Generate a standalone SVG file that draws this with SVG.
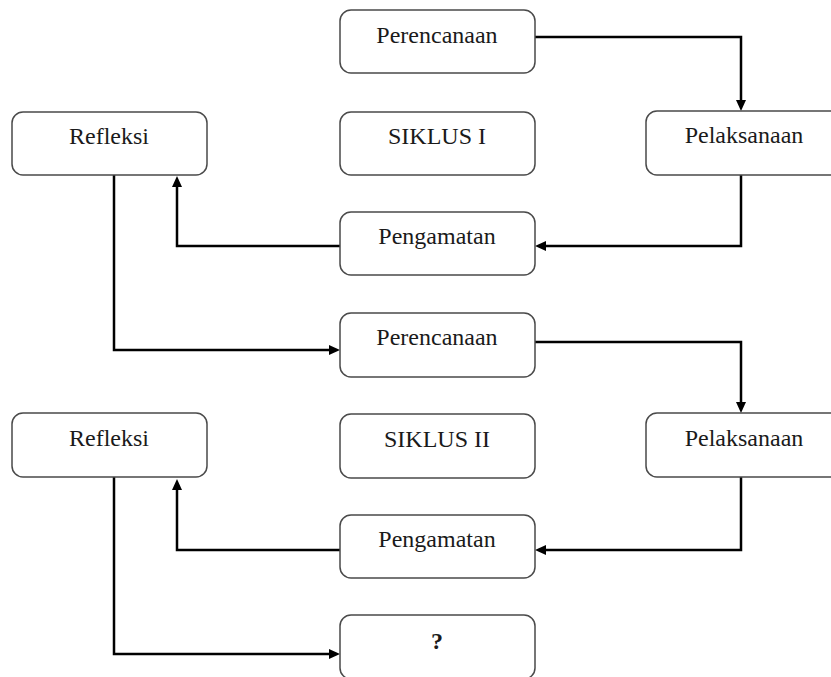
<svg xmlns="http://www.w3.org/2000/svg" width="831" height="677" viewBox="0 0 831 677">
  <style>
    .box { fill: #ffffff; stroke: #4a4a4a; stroke-width: 1.5; }
    .lbl { font-family: "Liberation Serif", "Times New Roman", serif; font-size: 24px; fill: #1a1a1a; text-anchor: middle; }
    .q { font-weight: bold; }
    .con { fill: none; stroke: #000000; stroke-width: 2.5; stroke-linejoin: miter; }
  </style>
  <defs>
    <marker id="arr" markerUnits="userSpaceOnUse" markerWidth="11" markerHeight="10" refX="0" refY="5" orient="auto">
      <path d="M0,0 L11,5 L0,10 z" fill="#000000"/>
    </marker>
  </defs>
  <rect width="831" height="677" fill="#ffffff"/>

  <g id="connectors">
    <path class="con" d="M535,37 H741 V100" marker-end="url(#arr)"/>
    <path class="con" d="M741,175 V246 H546" marker-end="url(#arr)"/>
    <path class="con" d="M340,246 H177 V187" marker-end="url(#arr)"/>
    <path class="con" d="M114,175 V350 H329" marker-end="url(#arr)"/>
    <path class="con" d="M535,342 H741 V402" marker-end="url(#arr)"/>
    <path class="con" d="M741,477 V550 H546" marker-end="url(#arr)"/>
    <path class="con" d="M340,550 H177 V490" marker-end="url(#arr)"/>
    <path class="con" d="M114,477 V654 H329" marker-end="url(#arr)"/>
  </g>

  <g id="perencanaan1">
    <rect class="box" x="340" y="10" width="195" height="63" rx="11"/>
    <text class="lbl" x="437" y="43">Perencanaan</text>
  </g>
  <g id="refleksi1">
    <rect class="box" x="12" y="112" width="195" height="63" rx="11"/>
    <text class="lbl" x="109" y="144">Refleksi</text>
  </g>
  <g id="siklus1">
    <rect class="box" x="340" y="112" width="195" height="63" rx="11"/>
    <text class="lbl" x="437" y="144">SIKLUS I</text>
  </g>
  <g id="pelaksanaan1">
    <rect class="box" x="646" y="111" width="195" height="64" rx="11"/>
    <text class="lbl" x="744" y="143">Pelaksanaan</text>
  </g>
  <g id="pengamatan1">
    <rect class="box" x="340" y="212" width="195" height="63" rx="11"/>
    <text class="lbl" x="437" y="244">Pengamatan</text>
  </g>
  <g id="perencanaan2">
    <rect class="box" x="340" y="313" width="195" height="64" rx="11"/>
    <text class="lbl" x="437" y="345">Perencanaan</text>
  </g>
  <g id="refleksi2">
    <rect class="box" x="12" y="413" width="195" height="64" rx="11"/>
    <text class="lbl" x="109" y="446">Refleksi</text>
  </g>
  <g id="siklus2">
    <rect class="box" x="340" y="414" width="195" height="64" rx="11"/>
    <text class="lbl" x="437" y="447">SIKLUS II</text>
  </g>
  <g id="pelaksanaan2">
    <rect class="box" x="646" y="413" width="195" height="64" rx="11"/>
    <text class="lbl" x="744" y="446">Pelaksanaan</text>
  </g>
  <g id="pengamatan2">
    <rect class="box" x="340" y="515" width="195" height="63" rx="11"/>
    <text class="lbl" x="437" y="547">Pengamatan</text>
  </g>
  <g id="tanya">
    <rect class="box" x="340" y="615" width="195" height="64" rx="11"/>
    <text class="lbl q" x="437" y="649">?</text>
  </g>
</svg>
